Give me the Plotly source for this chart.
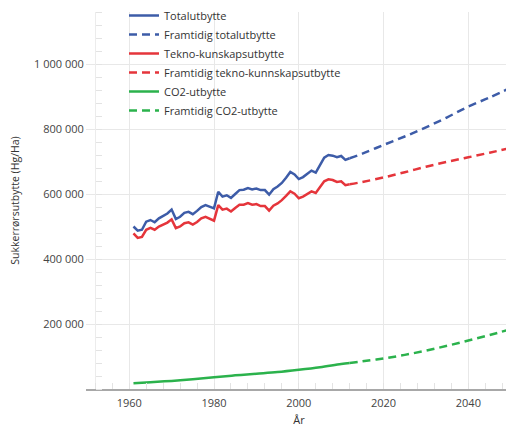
import plotly.graph_objects as go

years_hist = list(range(1961, 2013))
total_hist = [500, 487, 490, 515, 520, 513, 525, 532, 540, 552,
              523, 530, 542, 545, 538, 548, 560, 566, 562, 556,
              607, 592, 596, 588, 600, 612, 613, 618, 614, 617,
              612, 612, 598, 615, 623, 634, 650, 668, 660, 646,
              652, 662, 672, 666, 690, 712, 720, 718, 713, 717,
              705, 710]
tekno_hist = [479, 465, 468, 490, 496, 490, 500, 505, 512, 522,
              495, 500, 510, 513, 506, 514, 525, 530, 525, 518,
              566, 552, 555, 546, 557, 567, 567, 572, 567, 569,
              563, 563, 549, 564, 571, 581, 594, 608, 601, 587,
              592, 600, 608, 603, 622, 639, 645, 643, 637, 639,
              627, 630]
co2_years = [1961, 1965, 1970, 1975, 1980, 1985, 1990, 1995, 2000, 2005, 2010, 2012]
co2_hist = [18, 21, 25, 30, 36, 42, 47, 52, 59, 67, 77, 80]

years_fut = [2012, 2015, 2020, 2025, 2030, 2035, 2040, 2045, 2050]
total_fut = [710, 724, 751, 777, 805, 836, 869, 897, 927]
tekno_fut = [630, 637, 651, 667, 684, 699, 713, 727, 742]
co2_fut = [80, 85, 94, 105, 118, 133, 149, 166, 184]

y_ticks = [200000, 400000, 600000, 800000, 1000000]
x_ticks = [1960, 1980, 2000, 2020, 2040]

BLUE = "#3d5ca8"
RED = "#e5353b"
GREEN = "#2bb24c"

def k(v):
    return [x * 1000 for x in v]

fig = go.Figure()
fig.add_trace(go.Scatter(x=years_hist, y=k(total_hist), mode="lines", name="Totalutbytte",
                         line=dict(color=BLUE, width=2.5)))
fig.add_trace(go.Scatter(x=years_fut, y=k(total_fut), mode="lines", name="Framtidig totalutbytte",
                         line=dict(color=BLUE, width=2.5, dash="8px,5px", shape="spline")))
fig.add_trace(go.Scatter(x=years_hist, y=k(tekno_hist), mode="lines", name="Tekno-kunskapsutbytte",
                         line=dict(color=RED, width=2.5)))
fig.add_trace(go.Scatter(x=years_fut, y=k(tekno_fut), mode="lines", name="Framtidig tekno-kunnskapsutbytte",
                         line=dict(color=RED, width=2.5, dash="8px,5px", shape="spline")))
fig.add_trace(go.Scatter(x=co2_years, y=k(co2_hist), mode="lines", name="CO2-utbytte",
                         line=dict(color=GREEN, width=2.5, shape="spline")))
fig.add_trace(go.Scatter(x=years_fut, y=k(co2_fut), mode="lines", name="Framtidig CO2-utbytte",
                         line=dict(color=GREEN, width=2.5, dash="8px,5px", shape="spline")))

# page body has an 8px margin; figure is sized to fill the rest of the 514x428 window
OFF = 8
W, H = 514 - OFF, 428 - OFF
L, R, T, B = 86 - OFF, 2, 12 - OFF, 39
plot_w = W - L - R
plot_h = H - T - B
x0, x1 = 1949.8, 2050.3
ypos = (95 - 86) / plot_w

fig.update_layout(
    width=W, height=H,
    margin=dict(l=L, r=R, t=T, b=B, autoexpand=False),
    paper_bgcolor="white", plot_bgcolor="white",
    font=dict(family="Open Sans", size=10, color="#333333"),
    separators=", ",
    showlegend=True,
    legend=dict(x=(124 - 86) / plot_w, y=1 + 11 / plot_h, xanchor="left", yanchor="top",
                bgcolor="rgba(0,0,0,0)", font=dict(family="Open Sans", size=11, color="#333333"),
                tracegroupgap=0, itemwidth=30),
    xaxis=dict(range=[x0, x1], tickvals=x_ticks, showgrid=True, gridcolor="#e8e8e8",
               showline=True, linecolor="#a8a8a8", linewidth=2, zeroline=False, automargin=False,
               ticks="", tickfont=dict(size=11, color="#444444"), ticklabelstandoff=3,
               minor=dict(dtick=4, tick0=1960, ticks="inside", ticklen=6, tickcolor="#e3e3e3", showgrid=False),
               title=dict(text="År", font=dict(size=11, color="#333333"), standoff=7)),
    yaxis=dict(range=[0, 1160000], tickvals=y_ticks, tickformat=",d", showgrid=True, gridcolor="#e8e8e8",
               anchor="free", position=ypos, showline=True, linecolor="#ececec", linewidth=1,
               zeroline=False, ticks="outside", ticklen=9, tickcolor="#e8e8e8", automargin=False,
               tickfont=dict(size=11, color="#444444"),
               minor=dict(dtick=40000, ticks="inside", ticklen=6, tickcolor="#e3e3e3", showgrid=False),
               title=dict(text="Sukkerrørsutbytte (Hg/Ha)", font=dict(size=10.5, color="#333333"))),
)

fig.write_html("out.html")
